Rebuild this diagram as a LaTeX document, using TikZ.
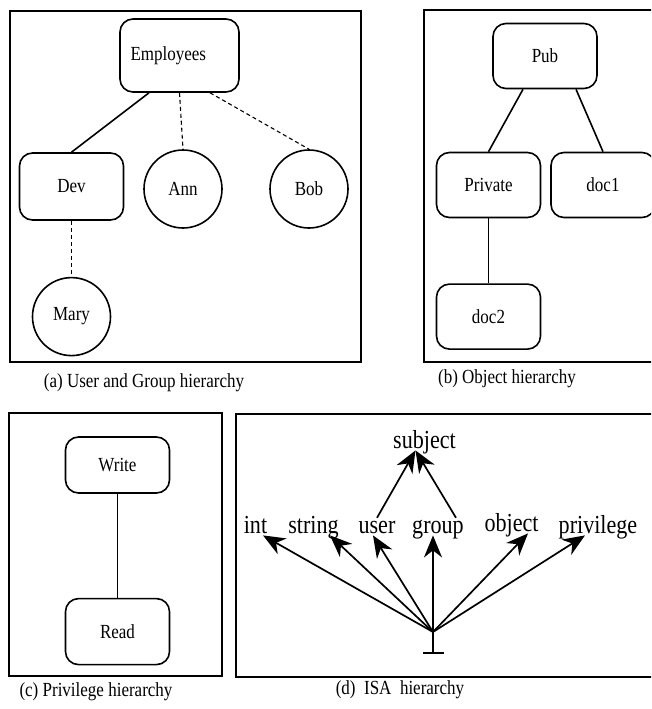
\documentclass[tikz,border=0pt]{standalone}
\usepackage{fontspec}
\setmainfont{Liberation Serif}[FakeStretch=0.85]
\usetikzlibrary{arrows.meta,positioning}

\begin{document}
\begin{tikzpicture}[
x=1pt, y=-1pt,
grp/.style={draw, rounded corners=13pt, line width=1.6pt, align=center, minimum width=104pt, minimum height=65pt, font=\fontsize{20}{24}\selectfont},
usr/.style={draw, circle, line width=1.6pt, minimum size=78pt, inner sep=0pt, font=\fontsize{20}{24}\selectfont},
panel/.style={draw, line width=2pt},
link/.style={line width=1.6pt},
weak/.style={line width=1.1pt, dash pattern=on 4pt off 3pt},
isatype/.style={inner sep=0pt, text height=.7em, text depth=.22em, font=\fontsize{26}{30}\selectfont},
isa/.style={-{Stealth[length=22pt, width=18pt, inset=7pt]}, line width=1.7pt},
captxt/.style={font=\fontsize{20}{24}\selectfont}
]
\useasboundingbox (0,0) rectangle (651,709);
\clip (0,0) rectangle (651,709);
\draw[panel] (10,11) rectangle (361,362);
\draw[panel] (424,10) rectangle (670,362);
\draw[panel] (9,413) rectangle (222,676);
\draw[panel] (236,414) rectangle (670,677);

\node[grp, minimum width=119pt, minimum height=73pt, align=left, text width=98pt] (emp) at (179.5,55.5) {Employees};
\node[grp, minimum height=67pt] (dev) at (71.5,186.5) {Dev};
\node[usr] (ann) at (183,189) {Ann};
\node[usr] (bob) at (309,189) {Bob};
\node[usr, below=56pt of dev] (mary) {Mary};
\draw[link] ([xshift=-30.5pt]emp.south) -- (dev.north);
\draw[weak] (emp.south) -- (ann.north);
\draw[weak] ([xshift=30.5pt]emp.south) -- (bob.north);
\draw[weak] (dev.south) -- (mary.north);

\node[grp] (pub) at (545,56) {Pub};
\node[grp] (priv) at (488.5,185) {Private};
\node[grp] (doc1) at (603,185) {doc1};
\node[grp, below=65pt of priv] (doc2) {doc2};
\draw[link] ([xshift=-22pt]pub.south) -- (priv.north);
\draw[link] ([xshift=31pt]pub.south) -- (doc1.north);
\draw[link] (priv) -- (doc2);

\node[grp, minimum height=56pt] (write) at (117.5,465) {Write};
\node[grp, minimum height=66pt, below=104pt of write] (read) {Read};
\draw[link] (write) -- (read);

\coordinate (bot) at (433,632);
\node[isatype, anchor=base] (subj) at (424.5,448) {subject};
\node[isatype, anchor=base] (int) at (255.5,533) {int};
\node[isatype, anchor=base] (str) at (313.5,533) {string};
\node[isatype, anchor=base] (user) at (377,533) {user};
\node[isatype, anchor=base] (group) at (438,533) {group};
\node[isatype, anchor=base] (obj) at (511.5,531) {object};
\node[isatype, anchor=base] (privl) at (598,533) {privilege};
\draw[isa] (bot) -- ([xshift=7.5pt]int.south);
\draw[isa] (bot) -- ([xshift=16.5pt]str.south);
\draw[isa] (bot) -- ([xshift=-4pt]user.south);
\draw[isa] (bot) -- ([xshift=-5pt]group.south);
\draw[isa] (bot) -- ([xshift=16.5pt]obj.south);
\draw[isa] (bot) -- ([xshift=-13pt]privl.south);
\draw[isa] ([yshift=8pt]user.north) -- ([xshift=-9pt]subj.south);
\draw[isa] ([xshift=18pt,yshift=8pt]group.north) -- ([xshift=-9pt]subj.south);
\draw[link] (bot) -- ++(0,21) coordinate (foot);
\draw[link] ([xshift=-10.5pt]foot) -- ([xshift=10.5pt]foot);

\node[captxt] (capa) at (144,383) {(a) User and Group hierarchy};
\node[captxt] (capb) at (507,379) {(b) Object hierarchy};
\node[captxt] (capc) at (96,692) {(c) Privilege hierarchy};
\node[captxt] (capd) at (400,690) {(d)\ \ ISA\ \ hierarchy};
\end{tikzpicture}
\end{document}
